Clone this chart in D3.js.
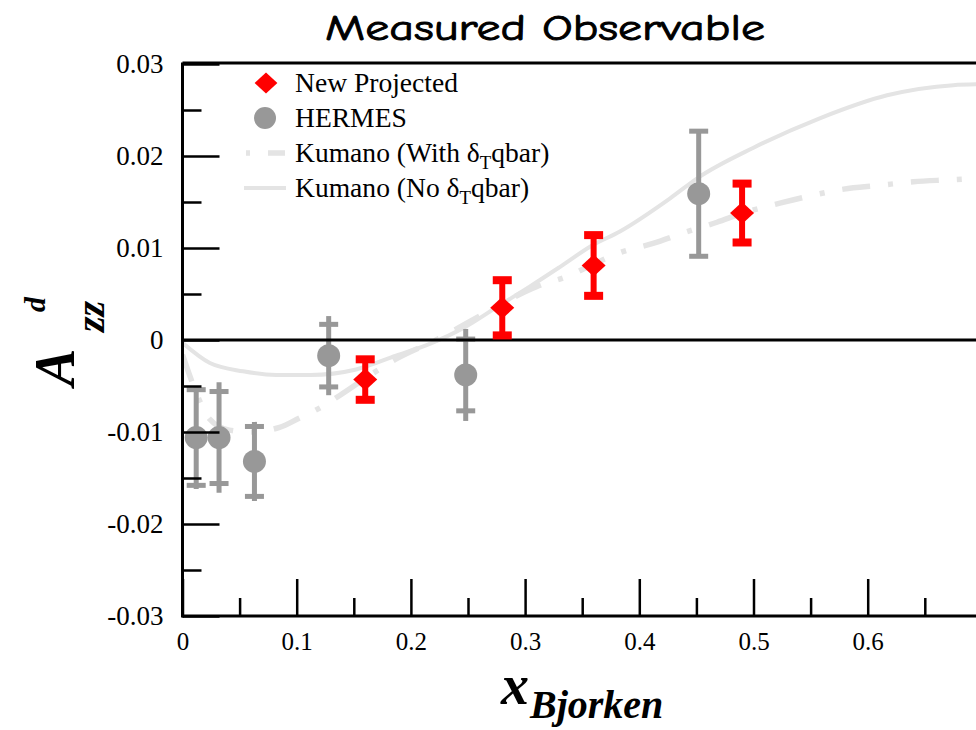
<!DOCTYPE html>
<html>
<head>
<meta charset="utf-8">
<script src="https://cdn.jsdelivr.net/npm/d3@7"></script>
<style>
  html, body { margin: 0; padding: 0; background: #fff; }
  svg { display: block; }
</style>
</head>
<body>
<svg id="chart" width="976" height="730"></svg>
<script>
// ---------------- data ----------------
const titleText = "Measured Observable";
const xTickValues = [0, 0.1, 0.2, 0.3, 0.4, 0.5, 0.6];
const xTickLabels = ["0", "0.1", "0.2", "0.3", "0.4", "0.5", "0.6"];
const xMinorTicks = [0.05, 0.15, 0.25, 0.35, 0.45, 0.55, 0.65];
const yTickValues = [-0.03, -0.02, -0.01, 0, 0.01, 0.02, 0.03];
const yTickLabels = ["-0.03", "-0.02", "-0.01", "0", "0.01", "0.02", "0.03"];
const yMinorTicks = [-0.025, -0.015, -0.005, 0.005, 0.015, 0.025];

// HERMES measurements (x, Azz, statistical error [capped], total error [bar length])
const hermesX = [0.012, 0.032, 0.063, 0.128, 0.248, 0.452];
const hermesY = [-0.0106, -0.0106, -0.0132, -0.0017, -0.0038, 0.0159];
const hermesStatErr = [0.0052, 0.0050, 0.0038, 0.0034, 0.0039, 0.0068];
const hermesTotErr = [0.0056, 0.0060, 0.0043, 0.0043, 0.0050, 0.0068];

// New projected points
const projX = [0.16, 0.28, 0.36, 0.49];
const projY = [-0.0043, 0.0035, 0.0081, 0.0138];
const projErr = [0.0022, 0.0030, 0.0033, 0.0032];

// Kumano (No deltaT qbar) - solid
const kumanoNoX = [0.000, 0.024, 0.053, 0.082, 0.112, 0.152, 0.187, 0.217, 0.246, 0.278, 0.304, 0.330, 0.359, 0.383, 0.427, 0.451, 0.500, 0.558, 0.617, 0.675, 0.700];
const kumanoNoY = [-0.0003, -0.0025, -0.0034, -0.0038, -0.0038, -0.0032, -0.0017, -0.0004, 0.0013, 0.0038, 0.0058, 0.0079, 0.0103, 0.0118, 0.0154, 0.0176, 0.0209, 0.0241, 0.0266, 0.0277, 0.0278];

// Kumano (With deltaT qbar) - dash-dot
const kumanoWithX = [0.000, 0.011, 0.023, 0.041, 0.059, 0.085, 0.102, 0.120, 0.138, 0.167, 0.188, 0.222, 0.263, 0.310, 0.339, 0.359, 0.383, 0.412, 0.440, 0.468, 0.491, 0.524, 0.551, 0.579, 0.610, 0.640, 0.669, 0.685];
const kumanoWithY = [-0.0016, -0.0054, -0.0085, -0.0098, -0.0100, -0.0095, -0.0085, -0.0074, -0.0060, -0.0036, -0.0020, 0.0000, 0.0028, 0.0058, 0.0070, 0.0082, 0.0095, 0.0105, 0.0117, 0.0128, 0.0138, 0.0149, 0.0157, 0.0164, 0.0168, 0.0172, 0.0174, 0.0175];

const legendLabels = ["New Projected", "HERMES", "Kumano (With ", "Kumano (No "];

// ---------------- drawing ----------------
const svg = d3.select("#chart");
const RED = "#ff0000", GRAY = "#989898", CURVE = "#e4e4e4";
const SERIF = "'Liberation Serif', 'Times New Roman', serif";

const x = d3.scaleLinear().domain([0, 0.7]).range([182.5, 182.5 + 0.7 * 1142]);
const y = d3.scaleLinear().domain([-0.03, 0.03]).range([616, 64]);
const pL = x(0), pR = 980, pT = y(0.03), pB = y(-0.03);

function stretch(sel, k) {
  sel.each(function () {
    const len = this.getComputedTextLength();
    d3.select(this).attr("textLength", len * k).attr("lengthAdjust", "spacingAndGlyphs");
  });
}

// title
const title = svg.append("text")
  .attr("x", 545).attr("y", 40)
  .attr("text-anchor", "middle")
  .attr("font-family", "'Comic Sans MS', 'Comic Neue', Lato, 'Open Sans', sans-serif")
  .attr("font-size", 37)
  .attr("fill", "#000").attr("stroke", "#000").attr("stroke-width", 0.9)
  .text(titleText);
title.attr("textLength", 440).attr("lengthAdjust", "spacingAndGlyphs");

// curves
const solidData = kumanoNoX.map((v, i) => [v, kumanoNoY[i]]);
const dashData = kumanoWithX.map((v, i) => [v, kumanoWithY[i]]);
const line = d3.line().x(d => x(d[0])).y(d => y(d[1])).curve(d3.curveMonotoneX);

svg.append("defs").append("clipPath").attr("id", "plotclip")
  .append("rect").attr("x", pL).attr("y", pT).attr("width", pR - pL).attr("height", pB - pT);

const plot = svg.append("g").attr("clip-path", "url(#plotclip)");
plot.append("path").datum(solidData).attr("d", line)
  .attr("fill", "none").attr("stroke", CURVE).attr("stroke-width", 4);
plot.append("path").datum(dashData).attr("d", line)
  .attr("fill", "none").attr("stroke", CURVE).attr("stroke-width", 5.5)
  .attr("stroke-dasharray", "28,18,5,18");

// zero line
svg.append("line").attr("x1", pL).attr("x2", pR).attr("y1", y(0)).attr("y2", y(0))
  .attr("stroke", "#000").attr("stroke-width", 3);

// HERMES points
const hermes = hermesX.map((v, i) => ({ x: v, y: hermesY[i], s: hermesStatErr[i], t: hermesTotErr[i] }));
const hg = plot.append("g");
hg.selectAll("line.bar").data(hermes).enter().append("line")
  .attr("x1", d => x(d.x)).attr("x2", d => x(d.x))
  .attr("y1", d => y(d.y + d.t)).attr("y2", d => y(d.y - d.t))
  .attr("stroke", GRAY).attr("stroke-width", 5);
hg.selectAll("rect.capTop").data(hermes).enter().append("rect")
  .attr("x", d => x(d.x) - 9.5).attr("y", d => y(d.y + d.s) - 2.5)
  .attr("width", 19).attr("height", 5).attr("fill", GRAY);
hg.selectAll("rect.capBot").data(hermes).enter().append("rect")
  .attr("x", d => x(d.x) - 9.5).attr("y", d => y(d.y - d.s) - 2.5)
  .attr("width", 19).attr("height", 5).attr("fill", GRAY);
hg.selectAll("circle").data(hermes).enter().append("circle")
  .attr("cx", d => x(d.x)).attr("cy", d => y(d.y)).attr("r", 11.5).attr("fill", GRAY);

// Projected points
const proj = projX.map((v, i) => ({ x: v, y: projY[i], e: projErr[i] }));
const pg = svg.append("g");
pg.selectAll("line").data(proj).enter().append("line")
  .attr("x1", d => x(d.x)).attr("x2", d => x(d.x))
  .attr("y1", d => y(d.y + d.e)).attr("y2", d => y(d.y - d.e))
  .attr("stroke", RED).attr("stroke-width", 6);
pg.selectAll("rect.t").data(proj).enter().append("rect")
  .attr("x", d => x(d.x) - 9.5).attr("y", d => y(d.y + d.e) - 4)
  .attr("width", 19).attr("height", 8).attr("fill", RED);
pg.selectAll("rect.b").data(proj).enter().append("rect")
  .attr("x", d => x(d.x) - 9.5).attr("y", d => y(d.y - d.e) - 4)
  .attr("width", 19).attr("height", 8).attr("fill", RED);
const diamond = "M0,-11L12,0L0,11L-12,0Z";
pg.selectAll("path").data(proj).enter().append("path")
  .attr("d", diamond)
  .attr("transform", d => `translate(${x(d.x)},${y(d.y)})`)
  .attr("fill", RED);

// Axes: ticks point inward
const yMajor = svg.append("g").attr("transform", `translate(${pL},0)`)
  .call(d3.axisLeft(y).tickValues(yTickValues).tickSize(-37).tickPadding(19)
    .tickFormat((d, i) => yTickLabels[i]));
const yMinor = svg.append("g").attr("transform", `translate(${pL},0)`)
  .call(d3.axisLeft(y).tickValues(yMinorTicks).tickSize(-19).tickFormat(""));
const xMajor = svg.append("g").attr("transform", `translate(0,${pB})`)
  .call(d3.axisBottom(x).tickValues(xTickValues).tickSize(-37).tickPadding(16)
    .tickFormat((d, i) => xTickLabels[i]));
const xMinor = svg.append("g").attr("transform", `translate(0,${pB})`)
  .call(d3.axisBottom(x).tickValues(xMinorTicks).tickSize(-18).tickFormat(""));

[yMajor, yMinor, xMajor, xMinor].forEach(g => {
  g.select(".domain").remove();
  g.attr("font-family", SERIF);
  g.selectAll(".tick line").attr("stroke", "#000").attr("stroke-width", 2.5);
  g.selectAll(".tick text").attr("font-family", SERIF).attr("fill", "#000");
});
yMajor.attr("font-size", 27).selectAll(".tick text").attr("font-size", 27);
xMajor.attr("font-size", 25).selectAll(".tick text").attr("font-size", 25);

// frame lines
svg.append("line").attr("x1", pL).attr("x2", pL).attr("y1", pT - 1.5).attr("y2", pB + 1.5)
  .attr("stroke", "#000").attr("stroke-width", 3);
svg.append("line").attr("x1", pL).attr("x2", pR).attr("y1", pB).attr("y2", pB)
  .attr("stroke", "#000").attr("stroke-width", 3);
svg.append("line").attr("x1", pL).attr("x2", pR).attr("y1", pT - 1).attr("y2", pT - 1)
  .attr("stroke", "#000").attr("stroke-width", 3);

// legend
const lg = svg.append("g");
const rowY = [83, 118, 153, 188];
const textX = 295;
lg.append("path").attr("d", diamond).attr("transform", `translate(266,${rowY[0]}) scale(0.95)`).attr("fill", RED);
lg.append("circle").attr("cx", 265).attr("cy", rowY[1]).attr("r", 11).attr("fill", GRAY);
lg.append("line").attr("x1", 246).attr("x2", 285).attr("y1", rowY[2]).attr("y2", rowY[2])
  .attr("stroke", CURVE).attr("stroke-width", 5.5).attr("stroke-dasharray", "4,18,28,18");
lg.append("line").attr("x1", 244).attr("x2", 286).attr("y1", rowY[3]).attr("y2", rowY[3])
  .attr("stroke", CURVE).attr("stroke-width", 4);

const legendTexts = [];
legendLabels.forEach((lab, i) => {
  const t = lg.append("text").attr("x", textX).attr("y", rowY[i] + 9)
    .attr("font-family", SERIF).attr("font-size", 26.5).attr("fill", "#000");
  t.append("tspan").text(lab);
  if (i >= 2) {
    t.append("tspan").text("\u03B4");
    t.append("tspan").attr("font-size", 18).attr("dy", 7).text("T");
    t.append("tspan").attr("dy", -7).text("qbar)");
  }
  legendTexts.push(t);
});
legendTexts.forEach(t => stretch(t, 1.04));

// y-axis label A_zz^d (rotated)
const yl = svg.append("g").attr("transform", "translate(74,386) rotate(-90)");
yl.append("text").attr("x", 0).attr("y", 0)
  .attr("font-family", SERIF).attr("font-weight", "bold").attr("font-style", "italic")
  .attr("font-size", 56).text("A");
yl.append("text").attr("x", 54).attr("y", 30)
  .attr("font-family", SERIF).attr("font-weight", "bold").attr("font-style", "italic")
  .attr("font-size", 40).text("zz");
yl.append("text").attr("x", 74).attr("y", -29)
  .attr("font-family", SERIF).attr("font-weight", "bold").attr("font-style", "italic")
  .attr("font-size", 30).text("d");

// x-axis label x_Bjorken
const xl = svg.append("g");
xl.append("text").attr("x", 501).attr("y", 704)
  .attr("font-family", SERIF).attr("font-weight", "bold").attr("font-style", "italic")
  .attr("font-size", 56).text("x");
xl.append("text").attr("x", 530).attr("y", 718)
  .attr("font-family", SERIF).attr("font-weight", "bold").attr("font-style", "italic")
  .attr("font-size", 40).text("Bjorken");
</script>
</body>
</html>
